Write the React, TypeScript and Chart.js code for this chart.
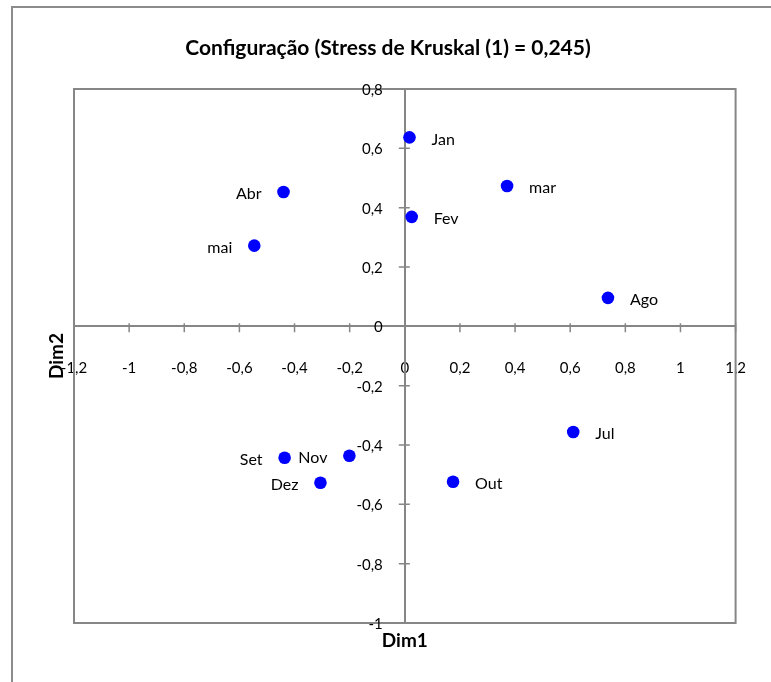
import React, { useEffect, useRef } from 'react';
import { Chart, registerables } from 'chart.js';

Chart.register(...registerables);

const MONTHS = ['Jan', 'Fev', 'mar', 'Abr', 'mai', 'Jul', 'Ago', 'Set', 'Out', 'Nov', 'Dez'];
const DIM1 = [0.017, 0.025, 0.371, -0.44, -0.546, 0.611, 0.737, -0.436, 0.175, -0.201, -0.306];
const DIM2 = [0.637, 0.369, 0.473, 0.453, 0.272, -0.356, 0.096, -0.443, -0.524, -0.436, -0.527];
const X_TICKS = [-1.2, -1, -0.8, -0.6, -0.4, -0.2, 0, 0.2, 0.4, 0.6, 0.8, 1, 1.2];
const Y_TICKS = [-1, -0.8, -0.6, -0.4, -0.2, 0, 0.2, 0.4, 0.6, 0.8];
const LEFT_LABELS = ['Abr', 'mai', 'Set', 'Nov', 'Dez'];
const TITLE = 'Configuração (Stress de Kruskal (1) = 0,245)';
const X_TITLE = 'Dim1';
const Y_TITLE = 'Dim2';

const FONT = 'Lato';
const AXIS = '#868686';

const fmt = (v: number) => {
  const r = Math.round(v * 10) / 10;
  return r === 0 ? '0' : String(r).replace('.', ',');
};

export default function App() {
  const ref = useRef<HTMLCanvasElement>(null);

  useEffect(() => {
    const decor = {
      id: 'decor',
      beforeDraw(chart: any) {
        const { ctx } = chart;
        ctx.save();
        ctx.fillStyle = '#ffffff';
        ctx.fillRect(0, 0, chart.width, chart.height);
        ctx.strokeStyle = '#8c8c8c';
        ctx.lineWidth = 2;
        ctx.strokeRect(12, 7, chart.width + 20, chart.height + 20);
        ctx.restore();
      },
      beforeDatasetsDraw(chart: any) {
        const { ctx, chartArea: a, scales } = chart;
        ctx.save();
        ctx.strokeStyle = AXIS;
        ctx.lineWidth = 2;
        ctx.strokeRect(a.left, a.top, a.right - a.left, a.bottom - a.top);
        const x0 = scales.x.getPixelForValue(0);
        const y0 = scales.y.getPixelForValue(0);
        ctx.lineWidth = 1.5;
        ctx.beginPath();
        X_TICKS.forEach((v) => {
          const px = scales.x.getPixelForValue(v);
          ctx.moveTo(px, y0 - 3);
          ctx.lineTo(px, y0 + 6);
        });
        Y_TICKS.forEach((v) => {
          const py = scales.y.getPixelForValue(v);
          ctx.moveTo(x0 - 6, py);
          ctx.lineTo(x0 + 5, py);
        });
        ctx.stroke();

        // y-axis tick labels, right-aligned left of the axis
        ctx.fillStyle = '#000000';
        ctx.font = `15px ${FONT}`;
        ctx.textAlign = 'right';
        ctx.textBaseline = 'middle';
        Y_TICKS.forEach((v) => {
          const py = scales.y.getPixelForValue(v);
          ctx.fillText(fmt(v), x0 - 22, py + 1);
        });
        ctx.restore();
      },
      afterDraw(chart: any) {
        const { ctx, chartArea: a } = chart;
        ctx.save();
        ctx.fillStyle = '#000000';
        ctx.textAlign = 'center';
        ctx.textBaseline = 'middle';
        ctx.font = `bold 21px ${FONT}`;
        ctx.fillText(TITLE, 388, 48);
        ctx.font = `bold 19px ${FONT}`;
        ctx.fillText(X_TITLE, (a.left + a.right) / 2, 641);
        ctx.save();
        ctx.translate(57, (a.top + a.bottom) / 2);
        ctx.rotate(-Math.PI / 2);
        ctx.fillText(Y_TITLE, 0, 0);
        ctx.restore();

        const meta = chart.getDatasetMeta(0);
        ctx.font = `16px ${FONT}`;
        meta.data.forEach((pt: any, i: number) => {
          const name = MONTHS[i];
          const left = LEFT_LABELS.includes(name);
          ctx.textAlign = left ? 'right' : 'left';
          ctx.fillText(name, pt.x + (left ? -22 : 22), pt.y + 2);
        });
        ctx.restore();
      },
    };

    const chart = new Chart(ref.current as HTMLCanvasElement, {
      type: 'scatter',
      data: {
        datasets: [
          {
            label: 'Configuração',
            data: DIM1.map((x, i) => ({ x, y: DIM2[i] })),
            backgroundColor: '#0000ff',
            borderWidth: 0,
            pointRadius: 6.3,
            pointHoverRadius: 6.3,
          },
        ],
      },
      options: {
        animation: false,
        responsive: false,
        events: [],
        layout: { padding: { left: 74, top: 89, right: 32, bottom: 59 } },
        plugins: {
          legend: { display: false },
          title: { display: false },
          tooltip: { enabled: false },
        },
        scales: {
          x: {
            type: 'linear',
            min: -1.2,
            max: 1.2,
            position: { y: 0 } as any,
            afterBuildTicks: (s: any) => {
              s.ticks = X_TICKS.map((value) => ({ value }));
            },
            grid: { display: false },
            border: { display: true, color: AXIS, width: 2 },
            ticks: {
              autoSkip: false,
              maxRotation: 0,
              padding: 25,
              color: '#000',
              font: { family: FONT, size: 15 },
              callback: (v: any) => fmt(Number(v)),
            },
          },
          y: {
            type: 'linear',
            min: -1,
            max: 0.8,
            position: { x: 0 } as any,
            afterBuildTicks: (s: any) => {
              s.ticks = Y_TICKS.map((value) => ({ value }));
            },
            grid: { display: false },
            border: { display: true, color: AXIS, width: 2 },
            ticks: { display: false },
          },
        },
      },
      plugins: [decor],
    });
    return () => chart.destroy();
  }, []);

  return (
    <div style={{ position: 'fixed', left: 0, top: 0, width: 771, height: 682, background: '#fff' }}>
      <canvas ref={ref} width={771} height={682} style={{ display: 'block' }} />
    </div>
  );
}
